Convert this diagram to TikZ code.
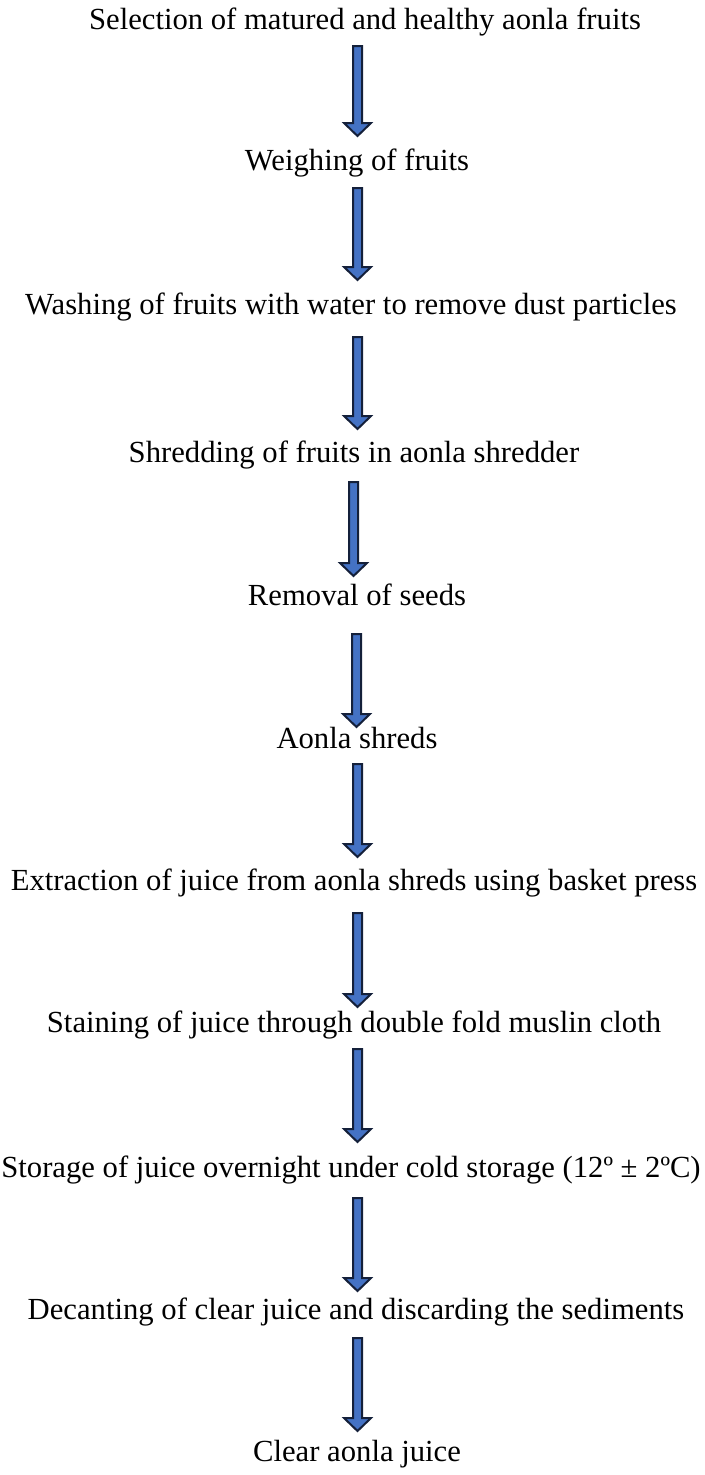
\documentclass[tikz,border=0pt]{standalone}
\usepackage{fontspec}
\setmainfont{Liberation Serif}
\usetikzlibrary{calc}
\definecolor{arrowfill}{HTML}{4472C4}
\definecolor{arrowline}{HTML}{14203A}
\tikzset{
  steptext/.style={anchor=base, inner sep=0pt, font=\fontsize{23}{28}\selectfont, text=black},
  arrowbox/.style={fill=arrowfill, draw=arrowline, line width=1.5pt, line join=miter}
}
\newcommand{\flowarrow}[2]{%
  \filldraw[arrowbox] ($(#1)+(-4.5,0)$) -- ($(#1)+(4.5,0)$) -- ($(#2)+(4.5,-13)$)
    -- ($(#2)+(13.5,-13)$) -- (#2) -- ($(#2)+(-13.5,-13)$) -- ($(#2)+(-4.5,-13)$) -- cycle;}
\begin{document}
\begin{tikzpicture}[x=0.75pt, y=-0.75pt]
\useasboundingbox (0,0) rectangle (704,1475);
\node[steptext] (s1) at (365,29) {Selection of matured and healthy aonla fruits};
\node[steptext] (s2) at (357,170) {Weighing of fruits};
\node[steptext] (s3) at (351,314) {Washing of fruits with water to remove dust particles};
\node[steptext] (s4) at (354,462) {Shredding of fruits in aonla shredder};
\node[steptext] (s5) at (357,605) {Removal of seeds};
\node[steptext] (s6) at (357,748) {Aonla shreds};
\node[steptext] (s7) at (354,890) {Extraction of juice from aonla shreds using basket press};
\node[steptext] (s8) at (354,1032) {Staining of juice through double fold muslin cloth};
\node[steptext] (s9) at (351,1177) {Storage of juice overnight under cold storage (12º ± 2ºC)};
\node[steptext] (s10) at (356,1319) {Decanting of clear juice and discarding the sediments};
\node[steptext] (s11) at (357,1461) {Clear aonla juice};
% arrow ends
\coordinate (a1) at (357.5,46);   \coordinate (b1) at (357.5,136);
\coordinate (a2) at (357.5,188);  \coordinate (b2) at (357.5,280);
\coordinate (a3) at (357.5,337);  \coordinate (b3) at (357.5,429);
\coordinate (a4) at (353.5,482);  \coordinate (b4) at (353.5,576);
\coordinate (a5) at (356.5,634);  \coordinate (b5) at (356.5,727);
\coordinate (a6) at (357.5,764);  \coordinate (b6) at (357.5,857);
\coordinate (a7) at (357.5,913);  \coordinate (b7) at (357.5,1007);
\coordinate (a8) at (357.5,1049); \coordinate (b8) at (357.5,1142);
\coordinate (a9) at (357.5,1198); \coordinate (b9) at (357.5,1291);
\coordinate (a10) at (357.5,1338); \coordinate (b10) at (357.5,1431);
\foreach \i in {1,...,10} {\flowarrow{a\i}{b\i}}
\end{tikzpicture}
\end{document}
